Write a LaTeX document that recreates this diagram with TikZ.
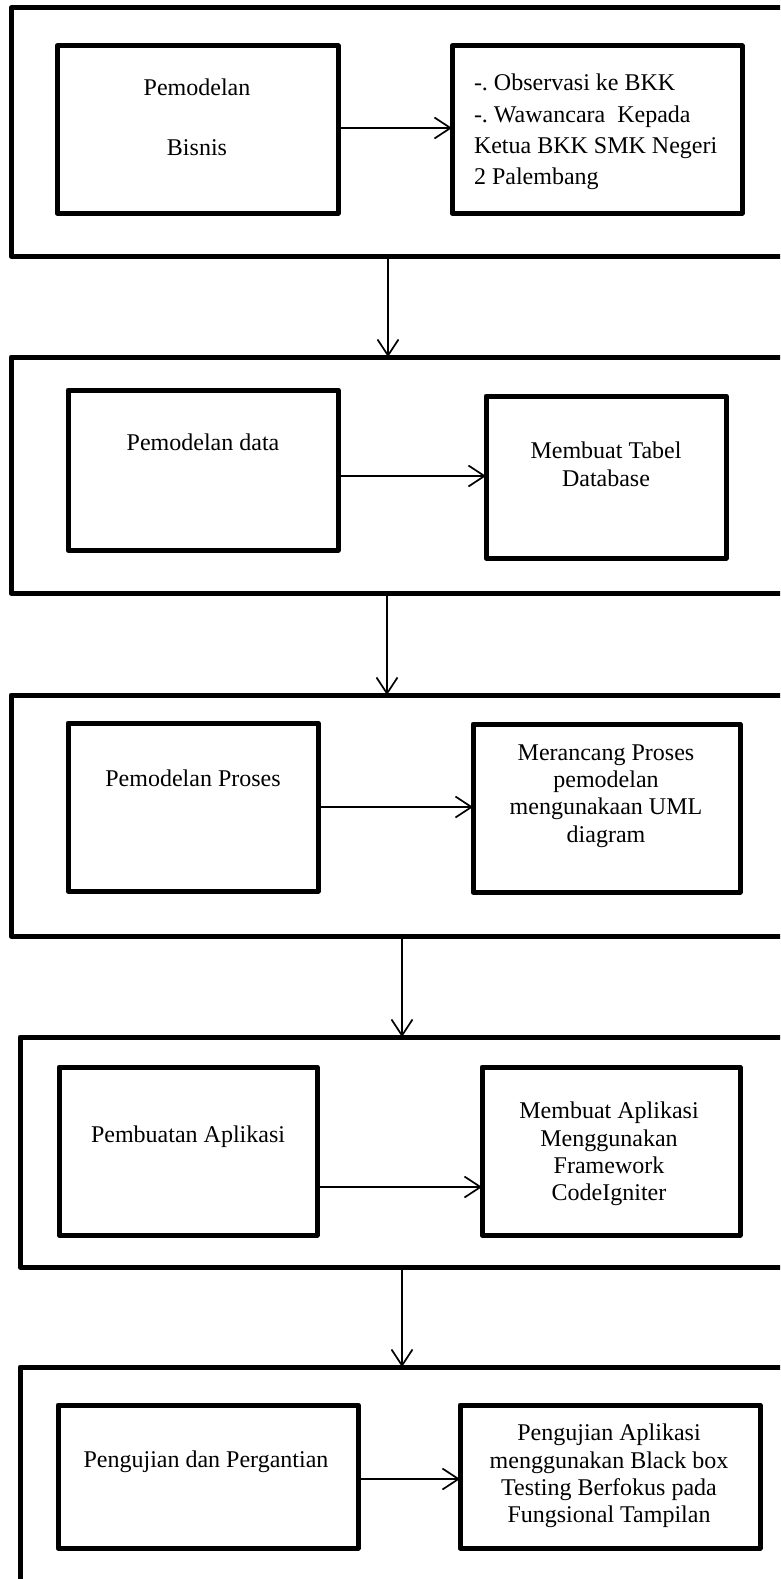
\documentclass[tikz,border=0pt]{standalone}
\usepackage{fontspec}
\setmainfont{Liberation Serif}
\frenchspacing
\usetikzlibrary{arrows.meta,calc}
\tikzset{
  outerbox/.style={draw=black,line width=5pt,line join=round,inner sep=0pt,outer sep=0pt},
  innerbox/.style={draw=black,line width=5pt,line join=round,inner sep=0pt,outer sep=0pt},
  txt/.style={inner sep=0pt,outer sep=0pt,align=center,font=\fontsize{24}{#1}\selectfont},
  txt/.default=27.5,
  arr/.style={draw=black,line width=1.7pt,-{Straight Barb[length=16pt,width=21pt]}}
}
\begin{document}
\begin{tikzpicture}[x=1pt,y=-1pt]
\useasboundingbox (0,0) rectangle (780,1579);
\clip (0,0) rectangle (780,1579);
\fill[white] (0,0) rectangle (780,1579);
% outer boxes
\node[outerbox,minimum width=809pt,minimum height=248pt] (o1) at (415.5,132) {};
\node[outerbox,minimum width=809pt,minimum height=236pt] (o2) at (415.5,475) {};
\node[outerbox,minimum width=809pt,minimum height=241pt] (o3) at (415.5,815.5) {};
\node[outerbox,minimum width=800pt,minimum height=230pt] (o4) at (420,1152) {};
\node[outerbox,minimum width=800pt,minimum height=253pt] (o5) at (420,1493.5) {};
% inner boxes
\node[innerbox,minimum width=281pt,minimum height=167pt] (l1) at (197.5,129.5) {};
\node[innerbox,minimum width=290pt,minimum height=167pt] (r1) at (597,129.5) {};
\node[innerbox,minimum width=270pt,minimum height=160pt] (l2) at (203,470) {};
\node[innerbox,minimum width=240pt,minimum height=162pt] (r2) at (606,477) {};
\node[innerbox,minimum width=250pt,minimum height=168pt] (l3) at (193,807) {};
\node[innerbox,minimum width=267pt,minimum height=168pt] (r3) at (606.5,808) {};
\node[innerbox,minimum width=258pt,minimum height=168pt] (l4) at (188,1151) {};
\node[innerbox,minimum width=258pt,minimum height=168pt] (r4) at (611,1151) {};
\node[innerbox,minimum width=300pt,minimum height=143pt] (l5) at (208,1476.5) {};
\node[innerbox,minimum width=300pt,minimum height=143pt] (r5) at (610,1476.5) {};
% texts
\node[txt=60] (t1l) at (197,117) {Pemodelan\\Bisnis};
\node[txt=31.3,align=left,anchor=west] (t1r) at (474,132) {-. Observasi ke BKK\\-. Wawancara\ \ Kepada\\Ketua BKK SMK Negeri\\2 Palembang};
\node[txt] (t2l) at (203,442) {Pemodelan data};
\node[txt=28] (t2r) at (606,464) {Membuat Tabel\\Database};
\node[txt] (t3l) at (193,778) {Pemodelan Proses};
\node[txt=27.3] (t3r) at (606,796) {Merancang Proses\\pemodelan\\mengunakaan UML\\diagram};
\node[txt] (t4l) at (188,1137) {Pembuatan Aplikasi};
\node[txt=27.3] (t4r) at (609,1154) {Membuat Aplikasi\\Menggunakan\\Framework\\CodeIgniter};
\node[txt] (t5l) at (206,1462) {Pengujian dan Pergantian};
\node[txt=27.3] (t5r) at (609,1476) {Pengujian Aplikasi\\menggunakan Black box\\Testing Berfokus pada\\Fungsional Tampilan};
% horizontal arrows
\draw[arr] ([yshift=1.5pt]l1.east) -- ([yshift=1.5pt]l1.east -| r1.west);
\draw[arr] ([yshift=-6pt]l2.east) -- ([yshift=-6pt]l2.east -| r2.west);
\draw[arr] (l3.east) -- (l3.east -| r3.west);
\draw[arr] ([yshift=-36pt]l4.east) -- ([yshift=-36pt]l4.east -| r4.west);
\draw[arr] ([yshift=-2.5pt]l5.east) -- ([yshift=-2.5pt]l5.east -| r5.west);
% vertical arrows
\coordinate (x1) at (388,0);
\coordinate (x2) at (387,0);
\coordinate (x3) at (402,0);
\coordinate (x4) at (402,0);
\draw[arr] (o1.south -| x1) -- (o2.north -| x1);
\draw[arr] (o2.south -| x2) -- (o3.north -| x2);
\draw[arr] (o3.south -| x3) -- (o4.north -| x3);
\draw[arr] (o4.south -| x4) -- (o5.north -| x4);
\end{tikzpicture}
\end{document}
